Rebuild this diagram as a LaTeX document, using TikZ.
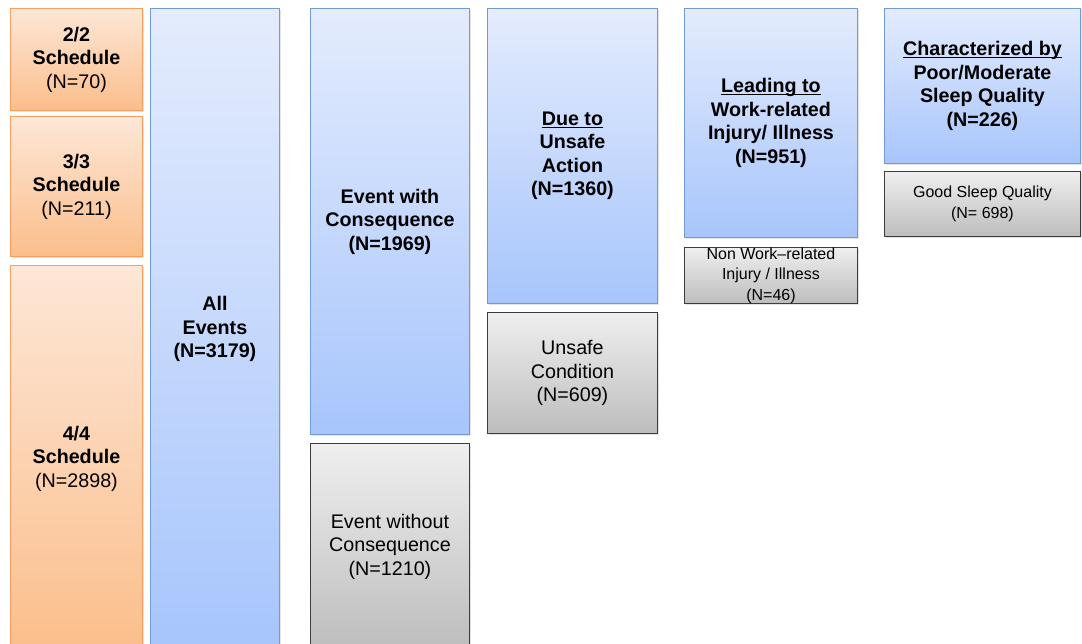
\documentclass[tikz,border=0pt]{standalone}
\usepackage{fontspec}
\setmainfont{Liberation Sans}
\usetikzlibrary{shadows}

\definecolor{orangeedge}{HTML}{F5A062}
\definecolor{orangetop}{HTML}{FDE7D7}
\definecolor{orangebot}{HTML}{FBBE8B}
\definecolor{blueedge}{HTML}{729AD3}
\definecolor{bluetop}{HTML}{E4ECFD}
\definecolor{bluebot}{HTML}{A7C5FC}
\definecolor{grayedge}{HTML}{3C3C3C}
\definecolor{graytop}{HTML}{EFEFEF}
\definecolor{graybot}{HTML}{BDBDBD}

\newcommand\bigtxt{\fontsize{19.7}{23.5}\selectfont}
\newcommand\smalltxt{\fontsize{16}{20.7}\selectfont}
% underline sitting just under the baseline
\newcommand\ulx[1]{\setbox0\hbox{#1}\rlap{\rule[-2.4pt]{\wd0}{1.1pt}}\box0}

\tikzset{
  cell/.style={rectangle, inner sep=0pt, align=center, line width=0.9pt,
    anchor=north west, font=\bigtxt,
    drop shadow={shadow xshift=1.2pt, shadow yshift=-1.6pt, opacity=0.22}},
  orangecell/.style={cell, draw=orangeedge, top color=orangetop, bottom color=orangebot},
  bluecell/.style={cell, draw=blueedge, top color=bluetop, bottom color=bluebot},
  graycell/.style={cell, draw=grayedge, top color=graytop, bottom color=graybot},
}

\begin{document}
\begin{tikzpicture}[x=1pt, y=-1pt]
\clip (0,0) rectangle (1082,643);
\fill[white] (0,0) rectangle (1082,643);

% schedules
\node[orangecell, minimum width=132pt, minimum height=102pt] (s22) at (10,8)
  {\textbf{2/2}\\\textbf{Schedule}\\(N=70)};
\node[orangecell, minimum width=132pt, minimum height=140pt] (s33) at (10,116)
  {\textbf{3/3}\\\textbf{Schedule}\\(N=211)};
\node[orangecell, minimum width=132pt, minimum height=386pt] (s44) at (10,265)
  {\textbf{4/4}\\\textbf{Schedule}\\(N=2898)};

% all events
\node[bluecell, minimum width=129pt, minimum height=641pt] (all) at (150,8)
  {\textbf{All}\\\textbf{Events}\\\textbf{(N=3179)}};

% consequence split
\node[bluecell, minimum width=159pt, minimum height=426pt] (ewc) at (310,8)
  {\textbf{Event with}\\\textbf{Consequence}\\\textbf{(N=1969)}};
\node[graycell, minimum width=159pt, minimum height=206pt] (ewo) at (310,443)
  {Event without\\Consequence\\(N=1210)};

% cause split
\node[bluecell, minimum width=170pt, minimum height=295pt] (act) at (487,8)
  {\textbf{\ulx{Due to}}\\\textbf{Unsafe}\\\textbf{Action}\\\textbf{(N=1360)}};
\node[graycell, minimum width=170pt, minimum height=121pt] (cond) at (487,312)
  {Unsafe\\Condition\\(N=609)};

% injury split
\node[bluecell, minimum width=173pt, minimum height=229pt] (work) at (684,8)
  {\textbf{\ulx{Leading to}}\\\textbf{Work-related}\\\textbf{Injury/ Illness}\\\textbf{(N=951)}};
\node[graycell, minimum width=173pt, minimum height=55pt, font=\smalltxt] (nonwork) at (684,247)
  {Non Work--related\\Injury / Illness\\(N=46)};

% sleep split
\node[bluecell, minimum width=196pt, minimum height=155pt] (poor) at (884,8)
  {\textbf{\ulx{Characterized by}}\\\textbf{Poor/Moderate}\\\textbf{Sleep Quality}\\\textbf{(N=226)}};
\node[graycell, minimum width=196pt, minimum height=65pt, font=\smalltxt] (good) at (884,171)
  {Good Sleep Quality\\(N= 698)};
\end{tikzpicture}
\end{document}
